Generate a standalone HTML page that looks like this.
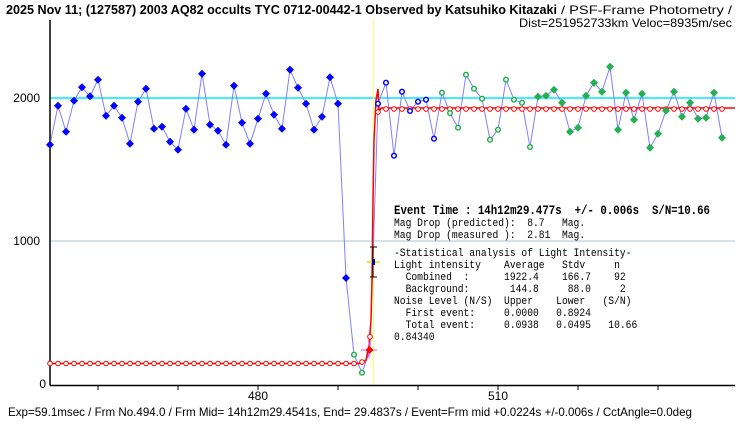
<!DOCTYPE html>
<html><head><meta charset="utf-8"><style>
body{margin:0;background:#fff}
svg{display:block}
text{font-family:"Liberation Sans","Noto Sans CJK JP",sans-serif;fill:#000}
.m text, text.m{font-family:"Liberation Mono","Noto Sans CJK JP",monospace;font-size:11.5px}
</style></head><body>
<svg width="740" height="425" viewBox="0 0 740 425" xmlns="http://www.w3.org/2000/svg">
<defs>
<path id="fd" d="M0,-4 L4,0 L0,4 L-4,0Z"/>
</defs>
<text x="6" y="14" font-size="13" font-weight="bold" textLength="551" lengthAdjust="spacingAndGlyphs">2025 Nov 11; (127587) 2003 AQ82 occults TYC 0712-00442-1 Observed by Katsuhiko Kitazaki</text>
<text x="561" y="14" font-size="12" textLength="171" lengthAdjust="spacingAndGlyphs">/ PSF-Frame Photometry /</text>
<text x="519" y="27" font-size="12" textLength="213" lengthAdjust="spacingAndGlyphs">Dist=251952733km Veloc=8935m/sec</text>
<line x1="50" y1="241" x2="735" y2="241" stroke="#a8c8c8" stroke-width="1"/>
<line x1="50" y1="98" x2="735" y2="98" stroke="#00e8ff" stroke-width="1.5"/>
<line x1="373.5" y1="20" x2="373.5" y2="385" stroke="#ffff60" stroke-width="1"/>
<line x1="50" y1="20" x2="50" y2="385.5" stroke="#000" stroke-width="1.5"/>
<line x1="50" y1="385.5" x2="735" y2="385.5" stroke="#000" stroke-width="1.5"/>
<g stroke="#000" stroke-width="1">
<line x1="98" y1="385" x2="98" y2="390"/><line x1="178" y1="385" x2="178" y2="390"/><line x1="258" y1="385" x2="258" y2="390"/><line x1="338" y1="385" x2="338" y2="390"/><line x1="418" y1="385" x2="418" y2="390"/><line x1="498" y1="385" x2="498" y2="390"/><line x1="578" y1="385" x2="578" y2="390"/><line x1="658" y1="385" x2="658" y2="390"/>
</g>
<text x="40" y="102" font-size="12" text-anchor="end">2000</text>
<text x="40" y="245" font-size="12" text-anchor="end">1000</text>
<text x="46" y="388" font-size="12" text-anchor="end">0</text>
<text x="258" y="400" font-size="12" text-anchor="middle">480</text>
<text x="498" y="400" font-size="12" text-anchor="middle">510</text>
<text x="8" y="416" font-size="12" textLength="684" lengthAdjust="spacingAndGlyphs">Exp=59.1msec / Frm No.494.0 / Frm Mid= 14h12m29.4541s,  End= 29.4837s / Event=Frm mid +0.0224s +/-0.006s / CctAngle=0.0deg</text>
<polyline fill="none" stroke="#8080ff" stroke-width="1" points="50,144.7 58,105.7 66,131.7 74,100.7 82,87.3 90,96.3 98,79.7 106,115.7 114,105.7 122,117.7 130,143.7 138,101.7 146,88.7 154,128.7 162,126.7 170,141.7 178,149.7 186,108.7 194,129.7 202,73.7 210,124.7 218,130.7 226,144.7 234,85.7 242,122.7 250,143.7 258,118.7 266,93.7 274,114.7 282,128.7 290,69.7 298,87.7 306,103.7 314,129.7 322,116.7 330,77.3 338,103.7 346,278 354,354.7 362,372.7 370,350 378,103.7 386,82.7 394,155.7 402,91.7 410,111 418,101.7 426,99.7 434,138.7 442,92.7 450,113 458,127.7 466,74.7 474,88.7 482,98.7 490,139.7 498,129.7 506,79.7 514,99.7 522,102.7 530,147 538,96.7 546,95.7 554,89.7 562,102.7 570,131.7 578,127.7 586,95.7 594,82.7 602,91.7 610,66.7 618,129.7 626,92.7 634,119.7 642,93.7 650,147.7 658,133.7 666,110.7 674,91.7 682,116.7 690,102.7 698,118.7 706,117.7 714,92.7 722,137.7"/>
<polyline fill="none" stroke="#ff0000" stroke-width="1.5" points="50,363.5 362,363.5 366,360 369,345 371,320 372,280 373,200 374,140 376,100 378,89 379,112 381,108 735,108"/>
<g fill="#fff" stroke="#ff0000" stroke-width="1">
<circle cx="50" cy="363.5" r="2.3"/><circle cx="58" cy="363.5" r="2.3"/><circle cx="66" cy="363.5" r="2.3"/><circle cx="74" cy="363.5" r="2.3"/><circle cx="82" cy="363.5" r="2.3"/><circle cx="90" cy="363.5" r="2.3"/><circle cx="98" cy="363.5" r="2.3"/><circle cx="106" cy="363.5" r="2.3"/><circle cx="114" cy="363.5" r="2.3"/><circle cx="122" cy="363.5" r="2.3"/><circle cx="130" cy="363.5" r="2.3"/><circle cx="138" cy="363.5" r="2.3"/><circle cx="146" cy="363.5" r="2.3"/><circle cx="154" cy="363.5" r="2.3"/><circle cx="162" cy="363.5" r="2.3"/><circle cx="170" cy="363.5" r="2.3"/><circle cx="178" cy="363.5" r="2.3"/><circle cx="186" cy="363.5" r="2.3"/><circle cx="194" cy="363.5" r="2.3"/><circle cx="202" cy="363.5" r="2.3"/><circle cx="210" cy="363.5" r="2.3"/><circle cx="218" cy="363.5" r="2.3"/><circle cx="226" cy="363.5" r="2.3"/><circle cx="234" cy="363.5" r="2.3"/><circle cx="242" cy="363.5" r="2.3"/><circle cx="250" cy="363.5" r="2.3"/><circle cx="258" cy="363.5" r="2.3"/><circle cx="266" cy="363.5" r="2.3"/><circle cx="274" cy="363.5" r="2.3"/><circle cx="282" cy="363.5" r="2.3"/><circle cx="290" cy="363.5" r="2.3"/><circle cx="298" cy="363.5" r="2.3"/><circle cx="306" cy="363.5" r="2.3"/><circle cx="314" cy="363.5" r="2.3"/><circle cx="322" cy="363.5" r="2.3"/><circle cx="330" cy="363.5" r="2.3"/><circle cx="338" cy="363.5" r="2.3"/><circle cx="346" cy="363.5" r="2.3"/><circle cx="354" cy="363.5" r="2.3"/><circle cx="362" cy="362" r="2.3"/><circle cx="370" cy="336.7" r="2.3"/><circle cx="378" cy="112" r="2.3"/>
<circle cx="386" cy="109" r="2.3"/><circle cx="394" cy="109" r="2.3"/><circle cx="402" cy="109" r="2.3"/><circle cx="410" cy="109" r="2.3"/><circle cx="418" cy="109" r="2.3"/><circle cx="426" cy="109" r="2.3"/><circle cx="434" cy="109" r="2.3"/><circle cx="442" cy="109" r="2.3"/><circle cx="450" cy="109" r="2.3"/><circle cx="458" cy="109" r="2.3"/><circle cx="466" cy="109" r="2.3"/><circle cx="474" cy="109" r="2.3"/><circle cx="482" cy="109" r="2.3"/><circle cx="490" cy="109" r="2.3"/><circle cx="498" cy="109" r="2.3"/><circle cx="506" cy="109" r="2.3"/><circle cx="514" cy="109" r="2.3"/><circle cx="522" cy="109" r="2.3"/><circle cx="530" cy="109" r="2.3"/><circle cx="538" cy="109" r="2.3"/><circle cx="546" cy="109" r="2.3"/><circle cx="554" cy="109" r="2.3"/><circle cx="562" cy="109" r="2.3"/><circle cx="570" cy="109" r="2.3"/><circle cx="578" cy="109" r="2.3"/><circle cx="586" cy="109" r="2.3"/><circle cx="594" cy="109" r="2.3"/><circle cx="602" cy="109" r="2.3"/><circle cx="610" cy="109" r="2.3"/><circle cx="618" cy="109" r="2.3"/><circle cx="626" cy="109" r="2.3"/><circle cx="634" cy="109" r="2.3"/><circle cx="642" cy="109" r="2.3"/><circle cx="650" cy="109" r="2.3"/><circle cx="658" cy="109" r="2.3"/><circle cx="666" cy="109" r="2.3"/><circle cx="674" cy="109" r="2.3"/><circle cx="682" cy="109" r="2.3"/><circle cx="690" cy="109" r="2.3"/><circle cx="698" cy="109" r="2.3"/><circle cx="706" cy="109" r="2.3"/><circle cx="714" cy="109" r="2.3"/><circle cx="722" cy="109" r="2.3"/>
</g>
<g fill="#0000ff">
<use href="#fd" x="50" y="144.7"/><use href="#fd" x="58" y="105.7"/><use href="#fd" x="66" y="131.7"/><use href="#fd" x="74" y="100.7"/><use href="#fd" x="82" y="87.3"/><use href="#fd" x="90" y="96.3"/><use href="#fd" x="98" y="79.7"/><use href="#fd" x="106" y="115.7"/><use href="#fd" x="114" y="105.7"/><use href="#fd" x="122" y="117.7"/><use href="#fd" x="130" y="143.7"/><use href="#fd" x="138" y="101.7"/><use href="#fd" x="146" y="88.7"/><use href="#fd" x="154" y="128.7"/><use href="#fd" x="162" y="126.7"/><use href="#fd" x="170" y="141.7"/><use href="#fd" x="178" y="149.7"/><use href="#fd" x="186" y="108.7"/><use href="#fd" x="194" y="129.7"/><use href="#fd" x="202" y="73.7"/><use href="#fd" x="210" y="124.7"/><use href="#fd" x="218" y="130.7"/><use href="#fd" x="226" y="144.7"/><use href="#fd" x="234" y="85.7"/><use href="#fd" x="242" y="122.7"/><use href="#fd" x="250" y="143.7"/><use href="#fd" x="258" y="118.7"/><use href="#fd" x="266" y="93.7"/><use href="#fd" x="274" y="114.7"/><use href="#fd" x="282" y="128.7"/><use href="#fd" x="290" y="69.7"/><use href="#fd" x="298" y="87.7"/><use href="#fd" x="306" y="103.7"/><use href="#fd" x="314" y="129.7"/><use href="#fd" x="322" y="116.7"/><use href="#fd" x="330" y="77.3"/><use href="#fd" x="338" y="103.7"/><use href="#fd" x="346" y="278"/>
</g>
<g fill="#fff" stroke="#0000ff" stroke-width="1.5">
<circle cx="378" cy="103.7" r="2.3"/><circle cx="386" cy="82.7" r="2.3"/><circle cx="394" cy="155.7" r="2.3"/><circle cx="402" cy="91.7" r="2.3"/><circle cx="410" cy="111" r="2.3"/><circle cx="418" cy="101.7" r="2.3"/><circle cx="426" cy="99.7" r="2.3"/><circle cx="434" cy="138.7" r="2.3"/>
</g>
<g fill="#fff" stroke="#22b050" stroke-width="1.5">
<circle cx="354" cy="354.7" r="2.3"/><circle cx="362" cy="372.7" r="2.3"/>
<circle cx="442" cy="92.7" r="2.3"/><circle cx="450" cy="113" r="2.3"/><circle cx="458" cy="127.7" r="2.3"/><circle cx="466" cy="74.7" r="2.3"/><circle cx="474" cy="88.7" r="2.3"/><circle cx="482" cy="98.7" r="2.3"/><circle cx="490" cy="139.7" r="2.3"/><circle cx="498" cy="129.7" r="2.3"/><circle cx="506" cy="79.7" r="2.3"/><circle cx="514" cy="99.7" r="2.3"/><circle cx="522" cy="102.7" r="2.3"/><circle cx="530" cy="147" r="2.3"/>
</g>
<g fill="#22b050">
<use href="#fd" x="538" y="96.7"/><use href="#fd" x="546" y="95.7"/><use href="#fd" x="554" y="89.7"/><use href="#fd" x="562" y="102.7"/><use href="#fd" x="570" y="131.7"/><use href="#fd" x="578" y="127.7"/><use href="#fd" x="586" y="95.7"/><use href="#fd" x="594" y="82.7"/><use href="#fd" x="602" y="91.7"/><use href="#fd" x="610" y="66.7"/><use href="#fd" x="618" y="129.7"/><use href="#fd" x="626" y="92.7"/><use href="#fd" x="634" y="119.7"/><use href="#fd" x="642" y="93.7"/><use href="#fd" x="650" y="147.7"/><use href="#fd" x="658" y="133.7"/><use href="#fd" x="666" y="110.7"/><use href="#fd" x="674" y="91.7"/><use href="#fd" x="682" y="116.7"/><use href="#fd" x="690" y="102.7"/><use href="#fd" x="698" y="118.7"/><use href="#fd" x="706" y="117.7"/><use href="#fd" x="714" y="92.7"/><use href="#fd" x="722" y="137.7"/>
</g>
<line x1="373" y1="247" x2="373" y2="277" stroke="#000" stroke-width="1"/>
<line x1="370" y1="247" x2="377" y2="247" stroke="#000"/>
<line x1="370" y1="277" x2="377" y2="277" stroke="#000"/>
<line x1="367" y1="262" x2="380" y2="262" stroke="#e0e000" stroke-width="1.5"/>
<rect x="372" y="259" width="3" height="6" fill="#0000aa"/>
<line x1="361" y1="350" x2="377" y2="350" stroke="#ff40ff" stroke-width="1"/>
<line x1="369" y1="342" x2="369" y2="358" stroke="#ff40ff" stroke-width="1"/>
<use href="#fd" x="369.5" y="350" fill="#ff0000"/>
<text x="394" y="214" class="m" style="font-size:13px;font-weight:bold" textLength="316" lengthAdjust="spacingAndGlyphs" xml:space="preserve">Event Time : 14h12m29.477s  +/- 0.006s  S/N=10.66</text>
<g class="m" transform="translate(394,0) scale(0.84,1)">
<text x="0" y="226" xml:space="preserve">Mag Drop (predicted):  8.7   Mag.</text>
<text x="0" y="238" xml:space="preserve">Mag Drop (measured ):  2.81  Mag.</text>
<text x="0" y="256" xml:space="preserve">-Statistical analysis of Light Intensity-</text>
<text x="0" y="268" xml:space="preserve">Light intensity    Average   Stdv     n</text>
<text x="0" y="280" xml:space="preserve">  Combined  :      1922.4    166.7    92</text>
<text x="0" y="292" xml:space="preserve">  Background:       144.8     88.0     2</text>
<text x="0" y="304" xml:space="preserve">Noise Level (N/S)  Upper    Lower   (S/N)</text>
<text x="0" y="316" xml:space="preserve">  First event:     0.0000   0.8924</text>
<text x="0" y="328" xml:space="preserve">  Total event:     0.0938   0.0495   10.66</text>
<text x="0" y="340">0.84340</text>
</g>
</svg>
</body></html>
